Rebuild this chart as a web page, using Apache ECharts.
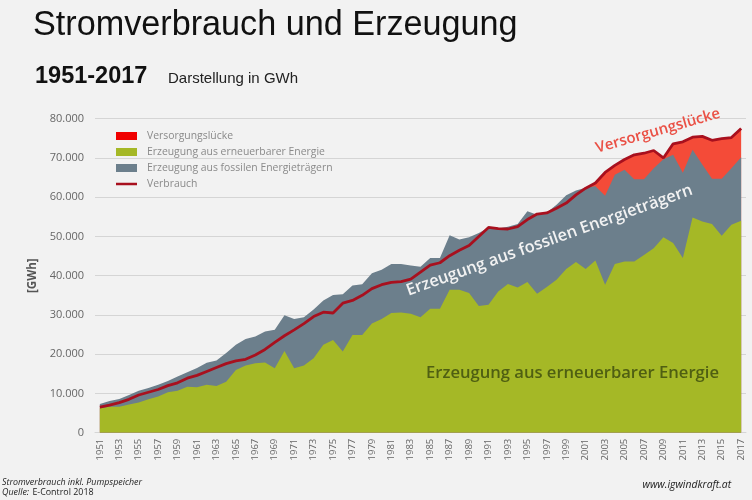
<!DOCTYPE html>
<html>
<head>
<meta charset="utf-8">
<title>Stromverbrauch und Erzeugung</title>
<script src="https://cdn.jsdelivr.net/npm/echarts@6/dist/echarts.min.js"></script>
<style>
    html, body { margin: 0; padding: 0; background: #f2f2f2; }
    #main { width: 752px; height: 500px; }
</style>
</head>
<body>
<div id="main"></div>
<script>
const jahre = [
    '1951', '1952', '1953', '1954', '1955', '1956', '1957', '1958', '1959', '1960',
    '1961', '1962', '1963', '1964', '1965', '1966', '1967', '1968', '1969', '1970',
    '1971', '1972', '1973', '1974', '1975', '1976', '1977', '1978', '1979', '1980',
    '1981', '1982', '1983', '1984', '1985', '1986', '1987', '1988', '1989', '1990',
    '1991', '1992', '1993', '1994', '1995', '1996', '1997', '1998', '1999', '2000',
    '2001', '2002', '2003', '2004', '2005', '2006', '2007', '2008', '2009', '2010',
    '2011', '2012', '2013', '2014', '2015', '2016', '2017'
];

// Verbrauch (rote Linie)
const verbrauch = [
    6500, 7000, 7650, 8500, 9600, 10300, 11000, 12000, 12700, 13900,
    14600, 15600, 16600, 17600, 18300, 18700, 19800, 21200, 23000, 24700,
    26200, 27800, 29600, 30700, 30500, 33000, 33700, 35000, 36700, 37700,
    38300, 38500, 39100, 40900, 42700, 43300, 45100, 46500, 47700, 50000,
    52300, 52000, 51900, 52500, 54300, 55700, 56000, 57200, 58500, 60600,
    62300, 63600, 66300, 68100, 69600, 70800, 71200, 71900, 70000, 73600,
    74100, 75300, 75500, 74500, 74900, 75200, 77500
];

// Oberkante der grauen Flaeche (erneuerbar + fossil)
const erzeugungGesamt = [
    7300, 8100, 8600, 9600, 10700, 11400, 12200, 13200, 14300, 15400,
    16500, 17800, 18400, 20300, 22400, 23900, 24500, 25800, 26200, 29900,
    29000, 29400, 31400, 33700, 35100, 35300, 37500, 37800, 40600, 41500,
    43000, 43000, 42600, 42300, 44500, 44500, 50300, 49200, 49800, 50900,
    52200, 52000, 52500, 53200, 56400, 55500, 56100, 58100, 60500, 61700,
    62400, 62800, 60400, 65700, 67000, 64600, 64600, 67400, 69700, 70800,
    66200, 72100, 68300, 64700, 64700, 67400, 70200
];

const erneuerbar = [
    6200, 6600, 6600, 7200, 7700, 8500, 9200, 10300, 10700, 11700,
    11600, 12200, 11900, 13000, 16000, 17100, 17700, 17900, 16400, 20800,
    16400, 17100, 19000, 22400, 23600, 20700, 24900, 24900, 27800, 29000,
    30500, 30600, 30300, 29400, 31600, 31600, 36400, 36400, 35600, 32300,
    32600, 36000, 37900, 37000, 38400, 35400, 37100, 39000, 41700, 43500,
    41700, 43900, 37700, 43000, 43600, 43600, 45300, 47000, 49800, 48300,
    44500, 54800, 53800, 53200, 50200, 53000, 54000
];

const yTicks = { min: 0, max: 80000, interval: 10000 };

const FONT = '"Open Sans", sans-serif';

let chart = echarts.init(document.getElementById('main'));

function flaeche(name, color, data) {
    return {
        name: name,
        type: 'line',
        data: data,
        symbol: 'none',
        lineStyle: { width: 0 },
        itemStyle: { color: color },
        areaStyle: { color: color, opacity: 1 }
    };
}

let option = {
    backgroundColor: '#f2f2f2',
    animation: false,
    textStyle: { fontFamily: FONT },
    title: [{
        text: 'Stromverbrauch und Erzeugung',
        left: 28,
        top: 4,
        textStyle: { fontFamily: '"Liberation Sans", Arial, sans-serif', fontSize: 34.2, fontWeight: 'normal', color: '#111' }
    }, {
        text: '1951-2017',
        left: 30,
        top: 60,
        textStyle: { fontFamily: '"Liberation Sans", Arial, sans-serif', fontSize: 23.5, fontWeight: 'bold', color: '#111' }
    }, {
        text: 'Darstellung in GWh',
        left: 163,
        top: 66,
        textStyle: { fontFamily: '"Liberation Sans", Arial, sans-serif', fontSize: 15, fontWeight: 'normal', color: '#222' }
    }],
    grid: { left: 95, right: 6, top: 118.7, bottom: 67.3 },
    legend: {
        orient: 'vertical',
        left: 111,
        top: 126,
        itemWidth: 21,
        itemHeight: 8,
        itemGap: 6,
        selectedMode: false,
        textStyle: { fontSize: 10.4, color: '#8a8a8a', fontFamily: FONT, padding: [0, 0, 0, 5] },
        data: [
            { name: 'Versorgungslücke', icon: 'rect', itemStyle: { color: '#f00000' } },
            { name: 'Erzeugung aus erneuerbarer Energie', icon: 'rect' },
            { name: 'Erzeugung aus fossilen Energieträgern', icon: 'rect' },
            { name: 'Verbrauch', icon: 'path://M0 0h0v0zM0 2.8h21v2.4H0zM0 8h0v0z' }
        ]
    },
    xAxis: {
        type: 'category',
        data: jahre,
        boundaryGap: true,
        axisTick: { show: false },
        axisLine: { lineStyle: { color: '#d5d5d5' } },
        axisLabel: { interval: 1, rotate: 90, fontSize: 9.5, color: '#666', margin: 6 }
    },
    yAxis: {
        type: 'value',
        min: yTicks.min,
        max: yTicks.max,
        interval: yTicks.interval,
        name: '[GWh]',
        nameLocation: 'middle',
        nameGap: 51,
        nameTextStyle: { fontSize: 11.5, fontWeight: 'bold', color: '#555' },
        axisLine: { show: false },
        axisTick: { show: false },
        splitLine: { lineStyle: { color: '#d5d5d5', width: 1.2 } },
        axisLabel: {
            fontSize: 11,
            color: '#666',
            margin: 11,
            formatter: function (v) {
                return v === 0 ? '0' : (v / 1000) + '.000';
            }
        }
    },
    series: [
        flaeche('Versorgungslücke', '#f44b38', verbrauch),
        flaeche('Erzeugung aus fossilen Energieträgern', '#6c7f8c', erzeugungGesamt),
        flaeche('Erzeugung aus erneuerbarer Energie', '#a5b826', erneuerbar),
        {
            name: 'Verbrauch',
            type: 'line',
            data: verbrauch,
            symbol: 'none',
            lineStyle: { color: '#a8101e', width: 2.8 },
            itemStyle: { color: '#a8101e' }
        }
    ],
    graphic: [{
        type: 'text',
        z: 100,
        x: 658, y: 131,
        rotation: 16 * Math.PI / 180,
        style: { text: 'Versorgungslücke', fill: '#ea5045', font: '600 15px "Open Sans"', textAlign: 'center', textVerticalAlign: 'middle' }
    }, {
        type: 'text',
        z: 100,
        x: 549.5, y: 240.5,
        rotation: 19.6 * Math.PI / 180,
        style: { text: 'Erzeugung aus fossilen Energieträgern', fill: '#f2f2f2', font: '600 16.4px "Open Sans"', textAlign: 'center', textVerticalAlign: 'middle' }
    }, {
        type: 'text',
        z: 100,
        x: 572.5, y: 373,
        style: { text: 'Erzeugung aus erneuerbarer Energie', fill: '#4f5f12', font: '600 16.6px "Open Sans"', textAlign: 'center', textVerticalAlign: 'middle' }
    }, {
        type: 'text',
        x: 2, y: 482,
        style: { text: 'Stromverbrauch inkl. Pumpspeicher', fill: '#222', font: 'italic 8.9px "Open Sans"', textVerticalAlign: 'middle' }
    }, {
        type: 'text',
        x: 2, y: 492,
        style: {
            rich: {
                i: { fontStyle: 'italic', fontSize: 8.9, fontFamily: 'Open Sans', fill: '#222' },
                n: { fontSize: 8.9, fontFamily: 'Open Sans', fill: '#222' }
            },
            text: '{i|Quelle:} {n|E-Control 2018}',
            textVerticalAlign: 'middle'
        }
    }, {
        type: 'text',
        x: 642.5, y: 485.5,
        style: { text: 'www.igwindkraft.at', fill: '#222', font: 'italic 10.4px "Open Sans"', textVerticalAlign: 'middle' }
    }]
};

chart.setOption(option);
window.addEventListener('resize', function () {
    chart.resize();
});
</script>
</body>
</html>
